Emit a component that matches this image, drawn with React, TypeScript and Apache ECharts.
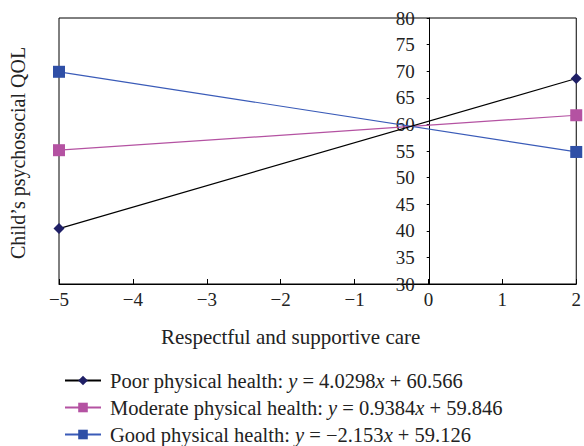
import React, { useEffect, useRef } from "react";
import * as echarts from "echarts";

const xValues = [-5, 2];
const poor = [40.42, 68.63];
const moderate = [55.15, 61.72];
const good = [69.89, 54.82];
const seriesNames = ["Poor physical health", "Moderate physical health", "Good physical health"];
const equations: Record<string, [string, string]> = {
  "Poor physical health": ["4.0298", "60.566"],
  "Moderate physical health": ["0.9384", "59.846"],
  "Good physical health": ["\u22122.153", "59.126"],
};

const FONT = "'Liberation Serif', 'DejaVu Serif', serif";
const GRID_LEFT = 59;
const GRID_RIGHT = 6;
const WIDTH = 584;
const X_MIN = -5;
const X_MAX = 2;

export default function App() {
  const ref = useRef<HTMLDivElement>(null);
  useEffect(() => {
    if (!ref.current) return;
    const chart = echarts.init(ref.current, undefined, { renderer: "svg" });
    const mk = (vals: number[]) => xValues.map((x, i) => [x, vals[i]]);
    const plotW = WIDTH - GRID_LEFT - GRID_RIGHT;
    const zeroOffset = (plotW * (0 - X_MIN)) / (X_MAX - X_MIN);
    chart.setOption({
      animation: false,
      backgroundColor: "#fff",
      textStyle: { fontFamily: FONT },
      grid: {
        left: GRID_LEFT,
        right: GRID_RIGHT,
        top: 18,
        bottom: 162,
        show: true,
        borderColor: "#000",
        borderWidth: 1,
        backgroundColor: "transparent",
      },
      xAxis: {
        type: "value",
        min: X_MIN,
        max: X_MAX,
        interval: 1,
        name: "Respectful and supportive care",
        nameLocation: "middle",
        nameGap: 42,
        nameTextStyle: { fontFamily: FONT, fontSize: 21, color: "#222", padding: [0, 54, 0, 0] },
        axisLine: { onZero: false, lineStyle: { color: "#000", width: 1 } },
        axisTick: { inside: true, length: 5, lineStyle: { color: "#000" } },
        axisLabel: {
          fontFamily: FONT,
          fontSize: 19,
          color: "#222",
          margin: 6,
          formatter: (v: number) => String(v).replace("-", "\u2212"),
        },
        splitLine: { show: false },
      },
      yAxis: {
        type: "value",
        min: 30,
        max: 80,
        interval: 5,
        position: "left",
        offset: -zeroOffset,
        axisLine: { show: true, onZero: false, lineStyle: { color: "#000", width: 1 } },
        axisTick: { show: true, inside: false, length: 3, lineStyle: { color: "#000" } },
        axisLabel: { fontFamily: FONT, fontSize: 19, color: "#222", margin: 15 },
        splitLine: { show: false },
      },
      legend: {
        orient: "vertical",
        left: 59,
        top: 365,
        height: 81,
        itemWidth: 36,
        itemHeight: 12,
        itemGap: 6,
        data: seriesNames,
        formatter: (name: string) => {
          const [m, b] = equations[name];
          return `{a|${name}: }{i|y}{a| = ${m}}{i|x}{a| + ${b}}`;
        },
        textStyle: {
          fontFamily: FONT,
          fontSize: 20.5,
          color: "#222",
          lineHeight: 18,
          padding: [0, 0, 0, 4],
          rich: {
            a: { fontFamily: FONT, fontSize: 20.5, color: "#222", lineHeight: 18 },
            i: { fontFamily: FONT, fontSize: 20.5, color: "#222", fontStyle: "italic", lineHeight: 18 },
          },
        },
      },
      graphic: [
        {
          type: "text",
          x: 18,
          y: 153,
          rotation: Math.PI / 2,
          style: {
            text: "Child\u2019s psychosocial QOL",
            fontFamily: FONT,
            fontSize: 20,
            fill: "#222",
            align: "center",
            verticalAlign: "middle",
          },
        },
      ],
      series: [
        {
          name: seriesNames[0],
          type: "line",
          data: mk(poor),
          symbol: "diamond",
          symbolSize: 11,
          itemStyle: { color: "#1f1f66" },
          lineStyle: { color: "#000", width: 1.2 },
          z: 3,
        },
        {
          name: seriesNames[1],
          type: "line",
          data: mk(moderate),
          symbol: "rect",
          symbolSize: 12,
          itemStyle: { color: "#b452a2" },
          lineStyle: { color: "#b452a2", width: 1.2 },
          z: 2,
        },
        {
          name: seriesNames[2],
          type: "line",
          data: mk(good),
          symbol: "rect",
          symbolSize: 12,
          itemStyle: { color: "#2f4fa6" },
          lineStyle: { color: "#3a5bb8", width: 1.2 },
          z: 2,
        },
      ],
    });
    return () => chart.dispose();
  }, []);
  return <div ref={ref} style={{ width: 584, height: 446, position: "absolute", left: 0, top: 0 }} />;
}
